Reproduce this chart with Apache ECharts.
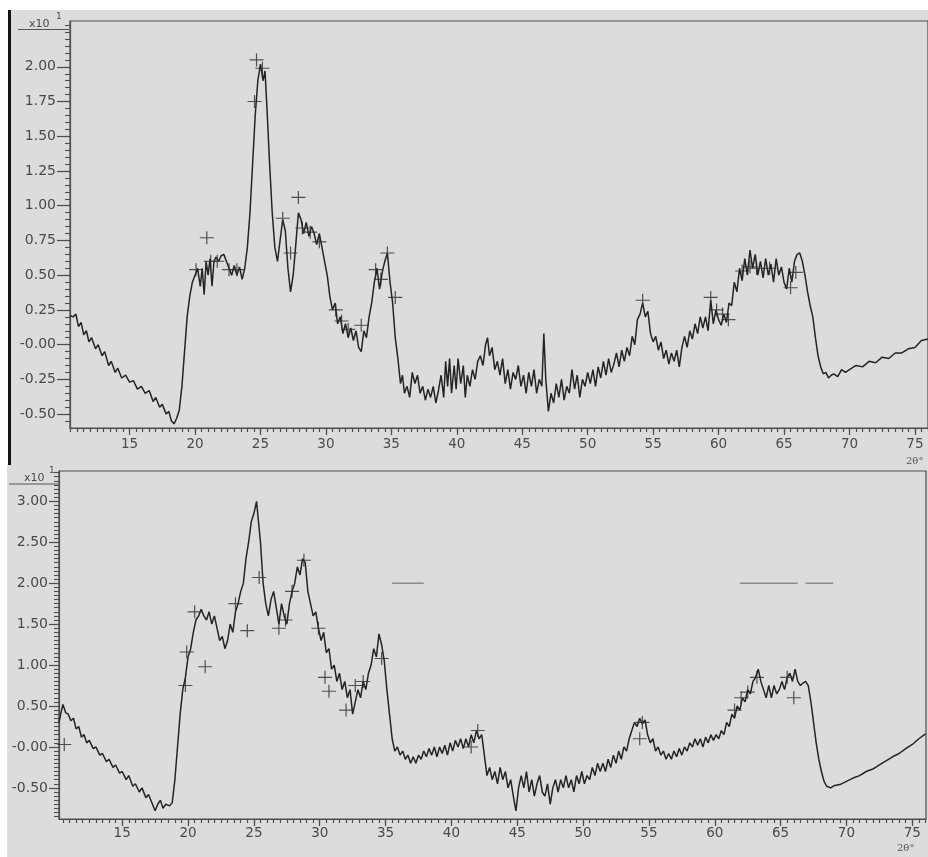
<!DOCTYPE html>
<html>
<head>
<meta charset="utf-8">
<script src="https://cdn.jsdelivr.net/npm/echarts@6/dist/echarts.min.js"></script>
<style>
  html, body { margin: 0; padding: 0; background: #ffffff; }
  #c { width: 928px; height: 857px; }
</style>
</head>
<body>
<div id="c"></div>
<script>
// Diffraction scans: [2θ (deg), intensity (x10^1 counts)]
const topScan = [
  [10.45,0.21],[10.7,0.2],[10.9,0.22],[11.1,0.13],[11.3,0.16],[11.5,0.07],[11.7,0.1],[11.9,0.02],[12.1,0.05],[12.4,-0.03],
  [12.6,0.0],[12.9,-0.08],[13.1,-0.05],[13.4,-0.15],[13.6,-0.12],[13.9,-0.2],[14.1,-0.17],[14.4,-0.24],[14.7,-0.22],[15.0,-0.27],
  [15.3,-0.26],[15.6,-0.32],[15.9,-0.3],[16.2,-0.35],[16.5,-0.33],[16.8,-0.41],[17.0,-0.38],[17.3,-0.45],[17.5,-0.43],[17.8,-0.5],
  [18.0,-0.48],[18.2,-0.55],[18.4,-0.57],[18.6,-0.53],[18.8,-0.47],[19.0,-0.3],[19.2,-0.05],[19.4,0.2],[19.6,0.35],[19.8,0.45],
  [20.0,0.5],[20.2,0.55],[20.4,0.42],[20.55,0.55],[20.7,0.36],[20.85,0.6],[21.0,0.5],[21.15,0.62],[21.3,0.42],[21.45,0.6],
  [21.6,0.63],[21.8,0.6],[22.0,0.64],[22.2,0.65],[22.4,0.6],[22.6,0.55],[22.8,0.5],[23.0,0.57],[23.2,0.5],[23.4,0.56],
  [23.6,0.47],[23.8,0.55],[24.0,0.7],[24.2,0.95],[24.4,1.3],[24.6,1.65],[24.8,1.9],[25.0,2.02],[25.2,1.9],[25.35,1.97],
  [25.5,1.7],[25.7,1.3],[25.9,0.95],[26.1,0.7],[26.3,0.6],[26.5,0.75],[26.7,0.9],[26.9,0.82],[27.1,0.55],[27.3,0.38],
  [27.5,0.5],[27.7,0.72],[27.9,0.95],[28.1,0.9],[28.3,0.8],[28.5,0.88],[28.7,0.78],[28.9,0.85],[29.1,0.8],[29.3,0.72],
  [29.5,0.8],[29.7,0.7],[29.9,0.6],[30.1,0.5],[30.3,0.35],[30.5,0.25],[30.7,0.3],[30.9,0.15],[31.1,0.2],[31.3,0.08],
  [31.5,0.15],[31.7,0.05],[31.9,0.12],[32.1,0.03],[32.3,0.1],[32.5,-0.02],[32.7,-0.05],[32.9,0.1],[33.1,0.05],[33.3,0.2],
  [33.5,0.3],[33.7,0.45],[33.9,0.55],[34.1,0.4],[34.3,0.52],[34.5,0.6],[34.7,0.66],[34.9,0.45],[35.1,0.3],[35.3,0.05],
  [35.5,-0.1],[35.7,-0.28],[35.85,-0.22],[36.0,-0.35],[36.2,-0.3],[36.4,-0.38],[36.6,-0.2],[36.8,-0.28],[37.0,-0.22],[37.2,-0.35],
  [37.4,-0.3],[37.6,-0.4],[37.8,-0.32],[38.0,-0.38],[38.2,-0.3],[38.4,-0.42],[38.6,-0.33],[38.8,-0.22],[39.0,-0.38],[39.15,-0.12],
  [39.3,-0.3],[39.45,-0.1],[39.6,-0.35],[39.8,-0.15],[39.95,-0.32],[40.1,-0.1],[40.3,-0.28],[40.5,-0.15],[40.65,-0.38],[40.8,-0.22],
  [41.0,-0.3],[41.2,-0.18],[41.4,-0.25],[41.6,-0.12],[41.8,-0.08],[42.0,-0.15],[42.2,0.0],[42.35,0.05],[42.5,-0.08],[42.7,-0.02],
  [42.9,-0.18],[43.1,-0.12],[43.3,-0.22],[43.5,-0.1],[43.7,-0.28],[43.9,-0.18],[44.1,-0.32],[44.3,-0.2],[44.5,-0.25],[44.7,-0.15],
  [44.9,-0.3],[45.1,-0.22],[45.3,-0.35],[45.5,-0.2],[45.7,-0.3],[45.9,-0.18],[46.1,-0.35],[46.3,-0.25],[46.5,-0.3],[46.65,0.08],
  [46.8,-0.25],[47.0,-0.48],[47.2,-0.35],[47.4,-0.42],[47.6,-0.28],[47.8,-0.38],[48.0,-0.25],[48.2,-0.4],[48.4,-0.3],[48.6,-0.35],
  [48.8,-0.18],[49.0,-0.32],[49.2,-0.22],[49.4,-0.38],[49.6,-0.25],[49.8,-0.3],[50.0,-0.2],[50.2,-0.28],[50.4,-0.18],[50.6,-0.3],
  [50.8,-0.16],[51.0,-0.24],[51.2,-0.12],[51.4,-0.22],[51.6,-0.1],[51.8,-0.2],[52.0,-0.14],[52.2,-0.06],[52.4,-0.16],[52.6,-0.04],
  [52.8,-0.12],[53.0,-0.02],[53.2,-0.08],[53.4,0.06],[53.6,0.0],[53.8,0.18],[54.0,0.22],[54.2,0.3],[54.4,0.2],[54.6,0.24],
  [54.8,0.08],[55.0,0.02],[55.2,0.06],[55.4,-0.04],[55.6,0.02],[55.8,-0.1],[56.0,-0.04],[56.2,-0.14],[56.4,-0.06],[56.6,-0.12],
  [56.8,-0.04],[57.0,-0.16],[57.2,-0.02],[57.4,0.06],[57.6,-0.02],[57.8,0.1],[58.0,0.04],[58.2,0.15],[58.4,0.08],[58.6,0.2],
  [58.8,0.12],[59.0,0.2],[59.2,0.1],[59.4,0.32],[59.6,0.15],[59.8,0.25],[60.0,0.18],[60.2,0.14],[60.4,0.22],[60.6,0.16],
  [60.8,0.3],[61.0,0.28],[61.2,0.45],[61.4,0.38],[61.6,0.55],[61.8,0.46],[62.0,0.62],[62.2,0.5],[62.4,0.68],[62.6,0.55],
  [62.8,0.65],[63.0,0.5],[63.2,0.6],[63.4,0.48],[63.6,0.62],[63.8,0.5],[64.0,0.58],[64.2,0.45],[64.4,0.62],[64.6,0.5],
  [64.8,0.56],[65.0,0.45],[65.2,0.4],[65.4,0.55],[65.6,0.45],[65.8,0.6],[66.0,0.65],[66.2,0.66],[66.4,0.6],[66.6,0.5],
  [66.8,0.38],[67.0,0.28],[67.2,0.2],[67.4,0.05],[67.6,-0.08],[67.8,-0.16],[68.0,-0.21],[68.2,-0.2],[68.4,-0.24],[68.6,-0.22],
  [68.8,-0.21],[69.1,-0.23],[69.4,-0.18],[69.7,-0.2],[70,-0.18],[70.5,-0.15],[71,-0.16],[71.5,-0.12],[72,-0.13],[72.5,-0.09],
  [73,-0.1],[73.5,-0.06],[74,-0.06],[74.5,-0.03],[75,-0.02],[75.5,0.03],[76,0.04]
];

const bottomScan = [
  [10.2,0.3],[10.35,0.42],[10.5,0.52],[10.7,0.42],[10.9,0.4],[11.1,0.32],[11.3,0.35],[11.5,0.22],[11.7,0.25],[11.9,0.12],
  [12.1,0.15],[12.3,0.05],[12.5,0.08],[12.8,-0.02],[13.0,0.0],[13.3,-0.1],[13.5,-0.08],[13.8,-0.18],[14.0,-0.15],[14.3,-0.25],
  [14.5,-0.22],[14.8,-0.32],[15.0,-0.3],[15.3,-0.4],[15.5,-0.35],[15.8,-0.48],[16.0,-0.45],[16.3,-0.55],[16.5,-0.5],[16.8,-0.62],
  [17.0,-0.58],[17.3,-0.7],[17.5,-0.78],[17.7,-0.7],[17.9,-0.65],[18.1,-0.75],[18.3,-0.7],[18.6,-0.72],[18.8,-0.68],[19.0,-0.4],
  [19.2,0.0],[19.4,0.4],[19.6,0.7],[19.8,0.85],[20.0,1.1],[20.2,1.2],[20.4,1.4],[20.6,1.55],[20.8,1.6],[21.0,1.68],
  [21.2,1.6],[21.4,1.55],[21.6,1.65],[21.8,1.5],[22.0,1.6],[22.2,1.45],[22.4,1.3],[22.6,1.35],[22.8,1.2],[23.0,1.3],
  [23.2,1.5],[23.4,1.4],[23.6,1.65],[23.8,1.75],[24.0,1.9],[24.2,2.0],[24.4,2.3],[24.6,2.5],[24.8,2.75],[25.0,2.85],
  [25.2,3.0],[25.35,3.02],[25.5,2.5],[25.7,2.0],[25.9,1.75],[26.1,1.6],[26.3,1.8],[26.5,1.9],[26.7,1.7],[26.9,1.5],
  [27.1,1.75],[27.3,1.6],[27.5,1.5],[27.7,1.75],[27.9,1.9],[28.1,2.0],[28.3,2.2],[28.5,2.1],[28.7,2.3],[28.9,2.25],
  [29.1,1.9],[29.3,1.75],[29.5,1.6],[29.7,1.65],[29.9,1.45],[30.1,1.3],[30.3,1.4],[30.5,1.15],[30.7,1.2],[30.9,0.95],
  [31.1,1.0],[31.3,0.8],[31.5,0.9],[31.7,0.7],[31.9,0.8],[32.1,0.6],[32.3,0.7],[32.5,0.4],[32.7,0.55],[32.9,0.7],
  [33.1,0.6],[33.3,0.8],[33.5,0.7],[33.7,0.9],[33.9,1.0],[34.1,1.2],[34.3,1.1],[34.5,1.38],[34.7,1.25],[34.9,1.05],
  [35.1,0.7],[35.3,0.4],[35.5,0.1],[35.7,-0.05],[35.9,0.0],[36.1,-0.1],[36.3,-0.05],[36.5,-0.15],[36.7,-0.1],[36.9,-0.2],
  [37.1,-0.12],[37.3,-0.2],[37.5,-0.1],[37.7,-0.15],[37.9,-0.05],[38.1,-0.12],[38.3,-0.02],[38.5,-0.1],[38.7,0.0],[38.9,-0.12],
  [39.1,0.0],[39.3,-0.08],[39.5,0.02],[39.7,-0.1],[39.9,0.05],[40.1,-0.05],[40.3,0.08],[40.5,0.0],[40.7,0.1],[40.9,-0.02],
  [41.1,0.1],[41.3,0.0],[41.5,0.15],[41.7,0.05],[41.9,0.2],[42.1,0.1],[42.3,0.15],[42.5,-0.1],[42.7,-0.35],[42.9,-0.25],
  [43.1,-0.4],[43.3,-0.3],[43.5,-0.45],[43.7,-0.25],[43.9,-0.4],[44.1,-0.3],[44.3,-0.5],[44.5,-0.4],[44.7,-0.6],[44.9,-0.78],
  [45.1,-0.5],[45.3,-0.35],[45.5,-0.5],[45.7,-0.3],[45.9,-0.55],[46.1,-0.4],[46.3,-0.6],[46.5,-0.45],[46.7,-0.35],[46.9,-0.55],
  [47.1,-0.6],[47.3,-0.45],[47.5,-0.7],[47.7,-0.5],[47.9,-0.4],[48.1,-0.55],[48.3,-0.4],[48.5,-0.5],[48.7,-0.35],[48.9,-0.5],
  [49.1,-0.4],[49.3,-0.55],[49.5,-0.35],[49.7,-0.45],[49.9,-0.3],[50.1,-0.45],[50.3,-0.35],[50.5,-0.4],[50.7,-0.25],[50.9,-0.35],
  [51.1,-0.2],[51.3,-0.3],[51.5,-0.2],[51.7,-0.3],[51.9,-0.15],[52.1,-0.25],[52.3,-0.1],[52.5,-0.2],[52.7,-0.05],[52.9,-0.15],
  [53.1,0.0],[53.3,-0.05],[53.5,0.1],[53.7,0.2],[53.9,0.3],[54.1,0.25],[54.3,0.35],[54.5,0.28],[54.7,0.33],[54.9,0.15],
  [55.1,0.05],[55.3,0.1],[55.5,-0.05],[55.7,0.0],[55.9,-0.1],[56.1,-0.05],[56.3,-0.15],[56.5,-0.08],[56.7,-0.15],[56.9,-0.05],
  [57.1,-0.12],[57.3,-0.02],[57.5,-0.1],[57.7,0.0],[57.9,-0.05],[58.1,0.05],[58.3,0.0],[58.5,0.1],[58.7,0.02],[58.9,0.1],
  [59.1,0.0],[59.3,0.12],[59.5,0.05],[59.7,0.15],[59.9,0.08],[60.1,0.15],[60.3,0.1],[60.5,0.2],[60.7,0.15],[60.9,0.3],
  [61.1,0.25],[61.3,0.4],[61.5,0.35],[61.7,0.5],[61.9,0.45],[62.1,0.6],[62.3,0.55],[62.5,0.7],[62.7,0.65],[62.9,0.8],
  [63.1,0.85],[63.3,0.95],[63.5,0.8],[63.7,0.7],[63.9,0.6],[64.1,0.75],[64.3,0.6],[64.5,0.75],[64.7,0.65],[64.9,0.7],
  [65.1,0.8],[65.3,0.7],[65.5,0.85],[65.7,0.9],[65.9,0.8],[66.1,0.95],[66.3,0.8],[66.5,0.75],[66.7,0.78],[66.9,0.8],
  [67.1,0.75],[67.3,0.55],[67.5,0.3],[67.7,0.05],[67.9,-0.15],[68.1,-0.3],[68.3,-0.42],[68.5,-0.48],[68.8,-0.5],[69.1,-0.47],
  [69.5,-0.46],[70,-0.42],[70.5,-0.38],[71,-0.35],[71.5,-0.3],[72,-0.27],[72.5,-0.22],[73,-0.17],[73.5,-0.12],[74,-0.08],
  [74.5,-0.02],[75,0.03],[75.5,0.1],[76,0.16]
];

// Peak markers (+) from the search-match
const topPeaks = [
  [20.08,0.54],[20.9,0.77],[21.2,0.6],[21.7,0.6],[22.6,0.54],[23.2,0.54],[24.55,1.75],[24.7,2.05],[25.15,1.99],
  [26.7,0.91],[27.3,0.66],[27.9,1.06],[28.2,0.84],[28.8,0.81],[29.5,0.74],[30.75,0.25],[31.2,0.17],[31.7,0.11],
  [32.7,0.14],[33.8,0.54],[34.2,0.47],[34.7,0.66],[35.3,0.34],[54.2,0.32],[59.4,0.34],[59.85,0.25],[60.3,0.22],
  [60.75,0.18],[61.8,0.53],[62.4,0.56],[62.9,0.55],[63.9,0.55],[65.5,0.41],[65.9,0.52]
];
const bottomPeaks = [
  [10.6,0.03],[19.8,0.75],[19.9,1.16],[20.5,1.65],[21.3,0.98],[23.6,1.75],[24.5,1.42],[25.4,2.07],[26.9,1.45],
  [27.4,1.55],[27.9,1.9],[28.8,2.28],[29.9,1.45],[30.4,0.85],[30.7,0.68],[32.0,0.45],[32.7,0.75],[33.3,0.8],
  [34.7,1.08],[41.5,0.0],[42.0,0.2],[54.3,0.1],[54.5,0.3],[61.5,0.45],[62.0,0.6],[62.5,0.67],[63.2,0.85],
  [65.5,0.85],[66.0,0.6]
];
// Short reference dashes at 2.0 in the lower scan
const bottomDashes = [
  [[35.5,2.0],[37.9,2.0]],
  [[61.9,2.0],[66.3,2.0]],
  [[66.9,2.0],[69.0,2.0]]
];

// Axis tick labels
const xTickLabels = [15,20,25,30,35,40,45,50,55,60,65,70,75];
const topYLabels = [-0.5,-0.25,0,0.25,0.5,0.75,1.0,1.25,1.5,1.75,2.0];
const bottomYLabels = [-0.5,0,0.5,1.0,1.5,2.0,2.5,3.0];

function range(a, b, step) {
  const out = [];
  for (let v = a; v <= b + 1e-9; v += step) out.push(Math.round(v * 1000) / 1000);
  return out;
}

const FONT = '"DejaVu Sans", Arial, sans-serif';
const LABEL_COLOR = '#4a4a4a';
const AXIS_COLOR = '#4d4d4d';
const yFmt = v => (Math.abs(v) < 1e-9 ? '-0.00' : v.toFixed(2));

const TOP = { min: 10.45, max: 76, ymin: -0.6, ymax: 2.33 };
const BOT = { min: 10.2, max: 76.04, ymin: -0.88, ymax: 3.37 };

function mainX(grid, cfg, labelMargin) {
  return {
    type: 'value', gridIndex: grid, min: cfg.min, max: cfg.max, position: 'bottom',
    axisLine: { show: true, onZero: false, lineStyle: { color: AXIS_COLOR, width: 1.2 } },
    axisTick: { show: true, customValues: xTickLabels, length: 7, lineStyle: { color: AXIS_COLOR, width: 1.2 } },
    axisLabel: { show: true, customValues: xTickLabels, margin: labelMargin, fontSize: 13.5, fontFamily: FONT, color: LABEL_COLOR },
    splitLine: { show: false }
  };
}
function minorX(grid, cfg) {
  return {
    type: 'value', gridIndex: grid, min: cfg.min, max: cfg.max, position: 'bottom',
    axisLine: { show: false, onZero: false },
    axisTick: { show: true, customValues: range(Math.ceil(cfg.min * 2) / 2, cfg.max, 0.5), length: 4, lineStyle: { color: AXIS_COLOR, width: 1.2 } },
    axisLabel: { show: false }, splitLine: { show: false }
  };
}
function mainY(grid, cfg, labels, tickLen) {
  return {
    type: 'value', gridIndex: grid, min: cfg.ymin, max: cfg.ymax, position: 'left',
    axisLine: { show: true, onZero: false, lineStyle: { color: AXIS_COLOR, width: 1.2 } },
    axisTick: { show: true, customValues: labels, length: tickLen, lineStyle: { color: AXIS_COLOR, width: 1.2 } },
    axisLabel: { show: true, customValues: labels, margin: tickLen + 1, fontSize: 14, fontFamily: FONT, color: LABEL_COLOR, formatter: yFmt },
    splitLine: { show: false }
  };
}
function minorY(grid, cfg, step) {
  return {
    type: 'value', gridIndex: grid, min: cfg.ymin, max: cfg.ymax, position: 'left',
    axisLine: { show: false, onZero: false },
    axisTick: { show: true, customValues: range(Math.ceil(cfg.ymin / step) * step, cfg.ymax, step), length: 5, lineStyle: { color: AXIS_COLOR, width: 1.1 } },
    axisLabel: { show: false }, splitLine: { show: false }
  };
}

const plusSymbol = 'path://M0,6.4H14V7.6H0Z M6.4,0H7.6V14H6.4Z';

function scanSeries(data, xi, yi) {
  return {
    type: 'line', xAxisIndex: xi, yAxisIndex: yi, data: data, showSymbol: false,
    lineStyle: { color: '#242424', width: 1.5 }, z: 3, animation: false
  };
}
function peakSeries(data, xi, yi) {
  return {
    type: 'scatter', xAxisIndex: xi, yAxisIndex: yi, data: data, symbol: plusSymbol,
    symbolSize: [14, 13], itemStyle: { color: '#2a2a2a' }, z: 4, animation: false
  };
}

const chart = echarts.init(document.getElementById('c'), null, { renderer: 'canvas' });

const series = [
  scanSeries(topScan, 0, 0),
  peakSeries(topPeaks, 0, 0),
  scanSeries(bottomScan, 2, 2),
  peakSeries(bottomPeaks, 2, 2)
];
bottomDashes.forEach(seg => series.push({
  type: 'line', xAxisIndex: 2, yAxisIndex: 2, data: seg, showSymbol: false,
  lineStyle: { color: '#8c8c8c', width: 1.6 }, z: 2, animation: false, silent: true
}));

chart.setOption({
  backgroundColor: '#ffffff',
  animation: false,
  grid: [
    { left: 70, top: 21, width: (TOP.max - TOP.min) * 13.2, height: 407, show: true, borderColor: AXIS_COLOR, borderWidth: 1.2, backgroundColor: 'transparent' },
    { left: 59, top: 471, width: 867, height: 348, show: true, borderColor: AXIS_COLOR, borderWidth: 1.2, backgroundColor: 'transparent' }
  ],
  xAxis: [mainX(0, TOP, 9), minorX(0, TOP), mainX(1, BOT, 7), minorX(1, BOT)],
  yAxis: [
    mainY(0, TOP, topYLabels, 13), minorY(0, TOP, 0.05),
    mainY(1, BOT, bottomYLabels, 10), minorY(1, BOT, 0.05)
  ],
  graphic: [
    { type: 'rect', z: -10, shape: { x: 10, y: 10, width: 918, height: 455 }, style: { fill: '#dcdcdc' } },
    { type: 'rect', z: -10, shape: { x: 7, y: 465, width: 921, height: 392 }, style: { fill: '#dcdcdc' } },
    { type: 'rect', z: -9, shape: { x: 8, y: 10, width: 3, height: 455 }, style: { fill: '#141414' } },
    // exponent captions
    { type: 'line', z: 5, shape: { x1: 18, y1: 29.5, x2: 69, y2: 29.5 }, style: { stroke: '#555', lineWidth: 1.2 } },
    { type: 'text', z: 5, left: 29, top: 19, style: { text: 'x10', font: '11px ' + FONT, fill: '#4a4a4a' } },
    { type: 'text', z: 5, left: 56, top: 12, style: { text: '1', font: '9px ' + FONT, fill: '#4a4a4a' } },
    { type: 'line', z: 5, shape: { x1: 9, y1: 484, x2: 58, y2: 484 }, style: { stroke: '#555', lineWidth: 1.2 } },
    { type: 'text', z: 5, left: 24, top: 473, style: { text: 'x10', font: '11px ' + FONT, fill: '#4a4a4a' } },
    { type: 'text', z: 5, left: 49, top: 466, style: { text: '1', font: '9px ' + FONT, fill: '#4a4a4a' } },
    // angle unit captions
    { type: 'text', z: 5, left: 906, top: 456, style: { text: '2θ°', font: '10px "DejaVu Serif", serif', fill: '#555' } },
    { type: 'text', z: 5, left: 897, top: 843, style: { text: '2θ°', font: '10px "DejaVu Serif", serif', fill: '#555' } }
  ],
  series: series
});
</script>
</body>
</html>
